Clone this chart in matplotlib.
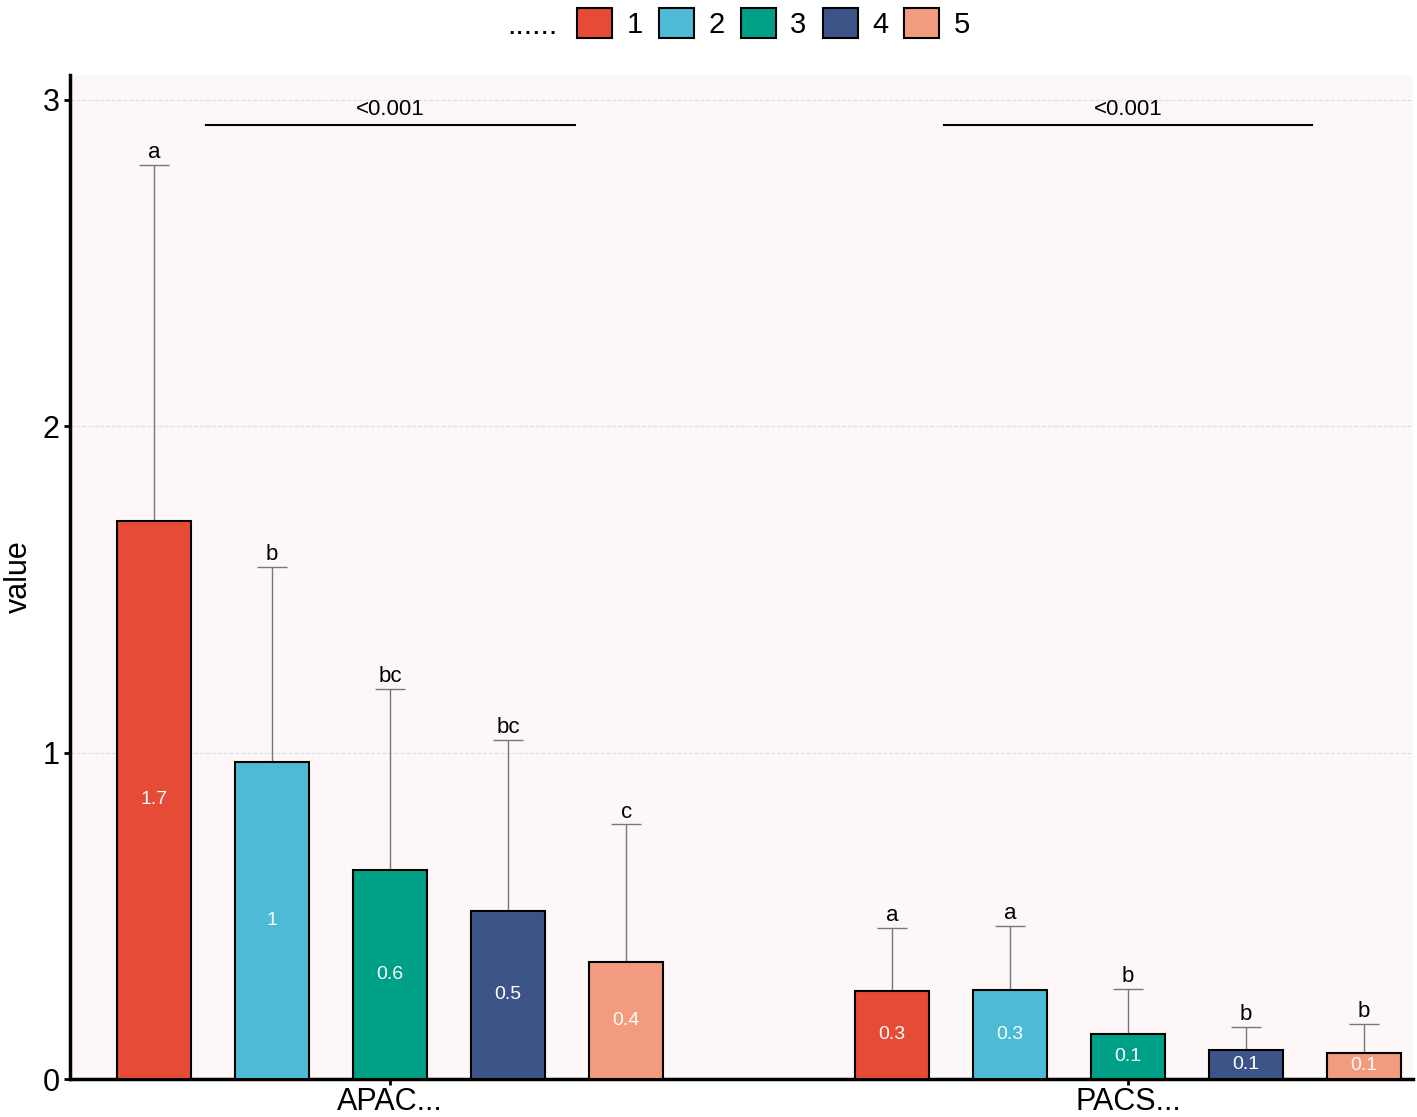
import numpy as np
import matplotlib
matplotlib.use('Agg')
import matplotlib.pyplot as plt
from matplotlib.patches import Patch

plt.rcParams['font.family'] = ['Liberation Sans', 'DejaVu Sans']

# data
groups = ['APAC...', 'PACS...']
series = ['1', '2', '3', '4', '5']
apac_mean = [1.71, 0.97, 0.64, 0.515, 0.36]
apac_err = [1.09, 0.60, 0.555, 0.525, 0.42]
pacs_mean = [0.27, 0.273, 0.138, 0.089, 0.08]
pacs_err = [0.193, 0.196, 0.138, 0.07, 0.089]
apac_text = ['1.7', '1', '0.6', '0.5', '0.4']
pacs_text = ['0.3', '0.3', '0.1', '0.1', '0.1']
apac_letters = ['a', 'b', 'bc', 'bc', 'c']
pacs_letters = ['a', 'a', 'b', 'b', 'b']
pvals = ['<0.001', '<0.001']

colors = ['#E64B35', '#4DBBD5', '#00A087', '#3C5488', '#F39B7F']

fig = plt.figure(figsize=(14.17, 11.17), dpi=100)
ax = fig.add_axes([0.0494, 0.034, 0.9476, 0.899])
ax.set_facecolor('#FDF8F7')

means = [apac_mean, pacs_mean]
errs = [apac_err, pacs_err]
texts = [apac_text, pacs_text]
letters = [apac_letters, pacs_letters]

step = 0.16
width = 0.1
for g in range(len(groups)):
    centre = g + 1
    for i in range(len(series)):
        x = centre + (i - 2) * step
        m = means[g][i]
        e = errs[g][i]
        ax.bar(x, m, width, color=colors[i], edgecolor='black', linewidth=1.5, zorder=3)
        ax.errorbar(x, m, yerr=[[0], [e]], fmt='none', ecolor='#777777',
                    elinewidth=1.0, capsize=10.5, capthick=1.0, zorder=2)
        ax.text(x, m / 2, texts[g][i], color='white', ha='center', va='center',
                fontsize=14, zorder=4)
        ax.text(x, m + e + 0.006, letters[g][i], ha='center', va='bottom', fontsize=16)
    # significance bracket
    ax.plot([centre - 0.25, centre + 0.25], [2.924, 2.924], color='black', lw=1.5)
    ax.text(centre, 2.94, pvals[g], ha='center', va='bottom', fontsize=16)

ax.set_xlim(0.566, 2.386)
ax.set_ylim(0, 3.077)
ax.set_yticks([0, 1, 2, 3])
ax.set_xticks([1, 2])
ax.set_xticklabels(groups)
ax.tick_params(axis='both', labelsize=22, width=2, length=4, color='black')
ax.tick_params(axis='x', pad=2)
ax.set_ylabel('value', fontsize=22, labelpad=6)

ax.yaxis.grid(True, linestyle='--', color='#dddddd', linewidth=0.8, zorder=0)
ax.set_axisbelow(True)
for s in ['top', 'right']:
    ax.spines[s].set_visible(False)
for s in ['left', 'bottom']:
    ax.spines[s].set_linewidth(2.5)

# legend
handles = [Patch(facecolor=c, edgecolor='black', linewidth=1.5) for c in colors]
fig.legend(handles, series, loc='center', bbox_to_anchor=(0.546, 0.979), ncol=5,
           frameon=False, fontsize=21, handlelength=1.2, handleheight=1.2,
           columnspacing=0.55, handletextpad=0.5)
fig.text(0.3755, 0.977, '......', fontsize=22, ha='center', va='center')

fig.savefig('out.png', dpi=100)
